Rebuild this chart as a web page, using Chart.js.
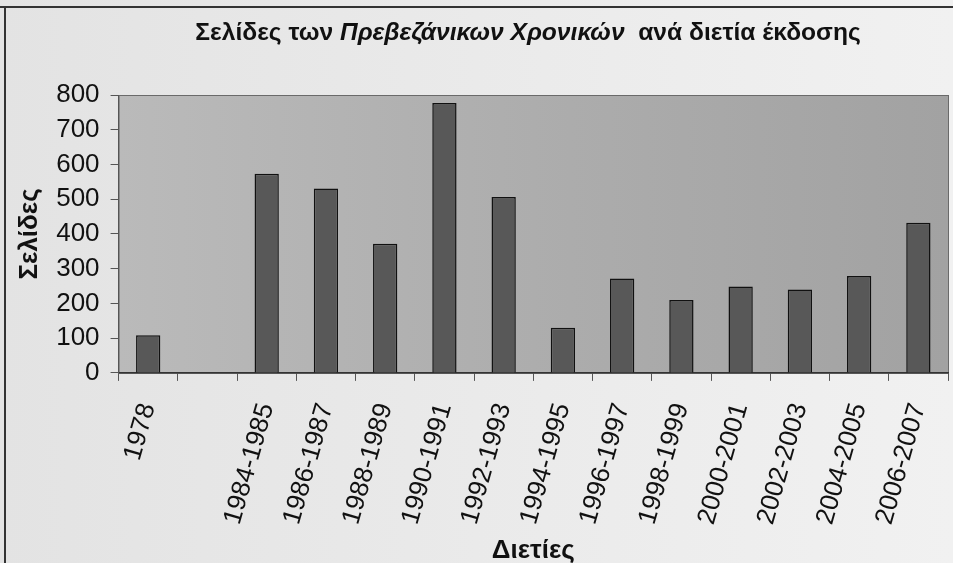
<!DOCTYPE html>
<html>
<head>
<meta charset="utf-8">
<script src="https://cdn.jsdelivr.net/npm/chart.js@4"></script>
<style>
  html, body { margin: 0; padding: 0; background: #ececec; }
  #wrap { position: relative; width: 953px; height: 563px; overflow: hidden; }
  #frameTop { position: absolute; left: 0; top: 6px; width: 953px; height: 2px; background: #333; }
  #frameLeft { position: absolute; left: 4px; top: 6px; width: 2px; height: 557px; background: #333; }
  canvas { position: absolute; left: 0; top: 0; }
</style>
</head>
<body>
<div id="wrap">
  <canvas id="myChart" width="953" height="563"></canvas>
  <div id="frameTop"></div>
  <div id="frameLeft"></div>
</div>
<script>
// data
const periods = ["1978", "", "1984-1985", "1986-1987", "1988-1989", "1990-1991", "1992-1993",
  "1994-1995", "1996-1997", "1998-1999", "2000-2001", "2002-2003", "2004-2005", "2006-2007"];
const pages = [108, null, 573, 531, 372, 777, 506, 130, 272, 210, 249, 240, 279, 432];
const yTicks = [0, 100, 200, 300, 400, 500, 600, 700, 800];

const titleParts = [
  { text: "Σελίδες των ", italic: false },
  { text: "Πρεβεζάνικων Χρονικών", italic: true },
  { text: "  ανά διετία έκδοσης", italic: false },
];

const FONT = "'Liberation Sans', Arial, sans-serif";

// page background, plot background and the mixed-style title
const decor = {
  id: "decor",
  beforeDraw(chart) {
    const { ctx, chartArea: a, width, height } = chart;
    ctx.save();
    const bg = ctx.createLinearGradient(0, 0, width, 0);
    bg.addColorStop(0, "#e3e3e3");
    bg.addColorStop(1, "#f1f1f1");
    ctx.fillStyle = bg;
    ctx.fillRect(0, 0, width, height);

    const g = ctx.createLinearGradient(a.left, 0, a.right, 0);
    g.addColorStop(0, "#bababa");
    g.addColorStop(0.5, "#adadad");
    g.addColorStop(1, "#a2a2a2");
    ctx.fillStyle = g;
    ctx.fillRect(a.left, a.top, a.right - a.left, a.bottom - a.top);
    ctx.strokeStyle = "#6a6a6a";
    ctx.lineWidth = 1;
    ctx.strokeRect(a.left + 0.5, a.top + 0.5, a.right - a.left, a.bottom - a.top);

    // title
    const fontFor = (p) => (p.italic ? "italic " : "") + "bold 24.6px " + FONT;
    let total = 0;
    titleParts.forEach((p) => { ctx.font = fontFor(p); total += ctx.measureText(p.text).width; });
    let x = 528 - total / 2;
    ctx.fillStyle = "#111";
    ctx.textBaseline = "middle";
    ctx.textAlign = "left";
    titleParts.forEach((p) => {
      ctx.font = fontFor(p);
      ctx.fillText(p.text, x, 33);
      x += ctx.measureText(p.text).width;
    });
    ctx.restore();
  },
};

const ctx = document.getElementById("myChart");

new Chart(ctx, {
  type: "bar",
  data: {
    labels: periods,
    datasets: [
      {
        label: "Σελίδες",
        data: pages,
        backgroundColor: "#585858",
        borderColor: "#111",
        borderWidth: 1.5,
        barPercentage: 1,
        categoryPercentage: 0.41,
      },
    ],
  },
  options: {
    responsive: false,
    animation: false,
    devicePixelRatio: 1,
    layout: { padding: { top: 95, left: 0, right: 5, bottom: 0 } },
    plugins: {
      legend: { display: false },
      tooltip: { enabled: false },
    },
    scales: {
      x: {
        afterFit: (axis) => { axis.paddingLeft = 0; axis.paddingRight = 0; },
        grid: { drawOnChartArea: false, drawTicks: true, tickLength: 8, color: "#555", offset: true },
        border: { display: true, color: "#333", width: 1.5 },
        ticks: {
          color: "#111",
          font: { size: 26, family: FONT },
          minRotation: 74,
          maxRotation: 74,
          autoSkip: false,
          padding: 19,
        },
        title: {
          display: true,
          text: "Διετίες",
          color: "#111",
          font: { size: 26, weight: "bold", family: FONT, lineHeight: 1 },
          padding: { top: -9, bottom: -1 },
        },
      },
      y: {
        min: 0,
        max: 800,
        afterBuildTicks: (axis) => { axis.ticks = yTicks.map((v) => ({ value: v })); },
        grid: { drawOnChartArea: false, drawTicks: true, tickLength: 8, color: "#555" },
        border: { display: true, color: "#555", width: 1 },
        ticks: {
          color: "#111",
          font: { size: 26, family: FONT },
          padding: 11,
          autoSkip: false,
        },
        title: {
          display: true,
          text: "Σελίδες",
          color: "#111",
          font: { size: 26, weight: "bold", family: FONT },
          padding: { top: 14, bottom: 0 },
        },
      },
    },
  },
  plugins: [decor],
});
</script>
</body>
</html>
